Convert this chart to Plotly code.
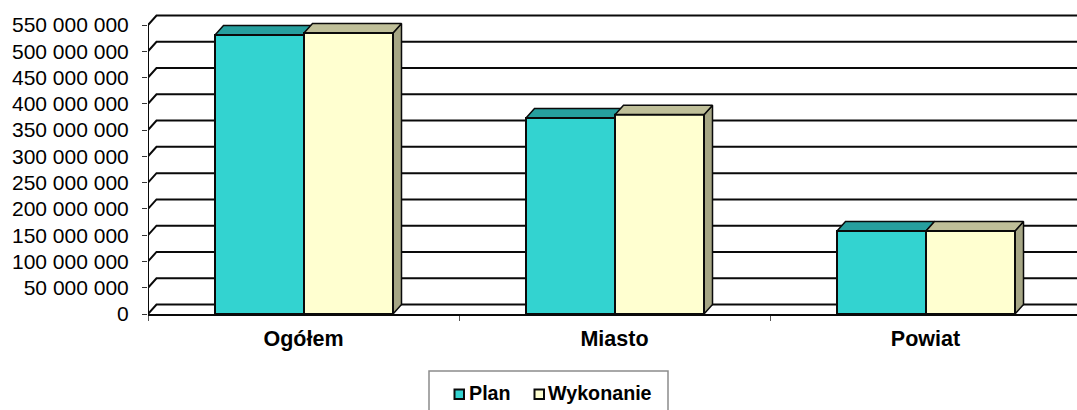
import plotly.graph_objects as go

categories = ["Ogółem", "Miasto", "Powiat"]
plan = [531e6, 373e6, 158e6]
wykonanie = [535e6, 379e6, 158e6]
tick_values = [i * 50_000_000 for i in range(12)]
tick_labels = ["0", "50 000 000", "100 000 000", "150 000 000", "200 000 000", "250 000 000",
               "300 000 000", "350 000 000", "400 000 000", "450 000 000", "500 000 000", "550 000 000"]

W, H = 1077, 410
L, T, B = 148, 12, 314          # plot area in pixels
CAT_PX = 311
Y_PX = (314 - 25) / 550e6       # pixels per unit
DX = 8.5 / CAT_PX               # 3-D depth on x, in data units
DY = 9.5 / Y_PX                 # 3-D depth on y, in data units
BAR_W = 89 / CAT_PX
SHIFT = 0.5 / CAT_PX
XMAX = (W - L) / CAT_PX
YMAX = (B - T) / Y_PX
FONT = "Liberation Sans, Arial, sans-serif"
INK = "#0a0a0a"

PLAN_C = dict(front="#33D3D0", top="#269F9E", side="#218585")
WYK_C = dict(front="#FFFFD0", top="#BFBF99", side="#A6A685")

fig = go.Figure()

# back wall gridlines with the diagonal return to the front axis
for v in tick_values:
    fig.add_trace(go.Scatter(x=[0, DX, XMAX], y=[v, v + DY, v + DY], mode="lines",
                             line=dict(color=INK, width=2), hoverinfo="skip", showlegend=False))
fig.add_trace(go.Scatter(x=[0, 0], y=[0, tick_values[-1]], mode="lines",
                         line=dict(color=INK, width=2), hoverinfo="skip", showlegend=False))


def faces(x0, x1, v, col):
    fig.add_trace(go.Scatter(x=[x1, x1 + DX, x1 + DX, x1, x1], y=[0, DY, v + DY, v, 0], mode="lines",
                             fill="toself", fillcolor=col["side"], line=dict(color=INK, width=1.5),
                             hoverinfo="skip", showlegend=False))
    fig.add_trace(go.Scatter(x=[x0, x1, x1 + DX, x0 + DX, x0], y=[v, v, v + DY, v + DY, v], mode="lines",
                             fill="toself", fillcolor=col["top"], line=dict(color=INK, width=1.5),
                             hoverinfo="skip", showlegend=False))


centers = [i + 0.5 + SHIFT for i in range(len(categories))]
for c, p, w in zip(centers, plan, wykonanie):
    faces(c - BAR_W, c, p, PLAN_C)
    faces(c, c + BAR_W, w, WYK_C)

# front faces sit on a matching overlay so they cover the depth faces
fig.add_trace(go.Bar(name="Plan", x=centers, y=plan, width=BAR_W, offset=-BAR_W,
                     marker=dict(color=PLAN_C["front"], line=dict(color=INK, width=2)),
                     xaxis="x2", yaxis="y2", showlegend=False))
fig.add_trace(go.Bar(name="Wykonanie", x=centers, y=wykonanie, width=BAR_W, offset=0,
                     marker=dict(color=WYK_C["front"], line=dict(color=INK, width=2)),
                     xaxis="x2", yaxis="y2", showlegend=False))


def px(x):
    return (x - L) / (W - L)


def py(y):
    return (B - y) / (B - T)


shapes = [
    dict(type="rect", xref="paper", yref="paper", x0=px(429), x1=px(668), y0=py(371), y1=py(416),
         line=dict(color="#8c8c8c", width=1.5), fillcolor="white"),
    dict(type="rect", xref="paper", yref="paper", x0=px(454.5), x1=px(464), y0=py(389.5), y1=py(399),
         line=dict(color=INK, width=2), fillcolor=PLAN_C["front"]),
    dict(type="rect", xref="paper", yref="paper", x0=px(534.5), x1=px(544), y0=py(389.5), y1=py(399),
         line=dict(color=INK, width=2), fillcolor=WYK_C["front"]),
]
annotations = [
    dict(text="<b>Plan</b>", xref="paper", yref="paper", x=px(466.5), y=py(393), xanchor="left", yanchor="middle",
         showarrow=False, font=dict(family=FONT, size=19.7, color="black")),
    dict(text="<b>Wykonanie</b>", xref="paper", yref="paper", x=px(546), y=py(393), xanchor="left", yanchor="middle",
         showarrow=False, font=dict(family=FONT, size=19.7, color="black")),
]

fig.update_layout(
    width=W, height=H, autosize=False, margin=dict(l=L, r=0, t=T, b=H - B, pad=0),
    paper_bgcolor="white", plot_bgcolor="white", showlegend=False, barmode="overlay",
    shapes=shapes, annotations=annotations, font=dict(family=FONT, color="black"),
    xaxis=dict(range=[0, XMAX], tickmode="array", tickvals=[i + 0.5 for i in range(3)],
               ticktext=[f"<b>{c}</b>" for c in categories], ticks="", ticklabelstandoff=4,
               tickfont=dict(family=FONT, size=21.5), showgrid=False, zeroline=False,
               showline=True, linecolor=INK, linewidth=2,
               minor=dict(tickmode="array", tickvals=[0, 1, 2], ticks="outside", ticklen=5,
                          tickcolor="#555555", tickwidth=1, showgrid=False)),
    yaxis=dict(range=[0, YMAX], tickmode="array", tickvals=tick_values, ticktext=tick_labels,
               ticks="outside", ticklen=5, tickcolor="#333333", tickwidth=1, ticklabelstandoff=9,
               tickfont=dict(family=FONT, size=21), showgrid=False, zeroline=False, showline=False),
    xaxis2=dict(overlaying="x", matches="x", visible=False),
    yaxis2=dict(overlaying="y", matches="y", visible=False),
)

fig.write_html("out.html", config=dict(displayModeBar=False),
               post_script="document.body.style.margin='0';document.documentElement.style.overflow='hidden';")
